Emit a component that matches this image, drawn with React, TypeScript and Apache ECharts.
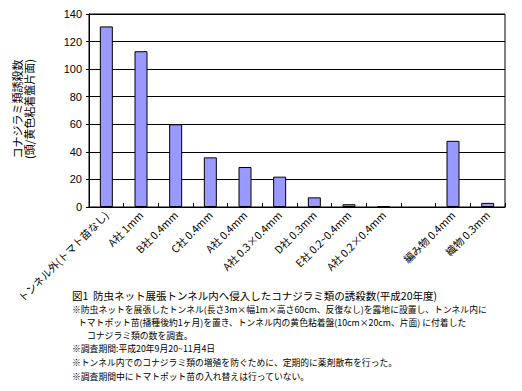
import React, { useEffect, useRef } from "react";
import * as echarts from "echarts";

const categories = [
  "トンネル外(トマト苗なし)",
  "A社 1mm",
  "B社 0.4mm",
  "C社 0.4mm",
  "A社 0.4mm",
  "A社 0.3×0.4mm",
  "D社 0.3mm",
  "E社 0.2~0.4mm",
  "A社 0.2×0.4mm",
  "",
  "編み物 0.4mm",
  "織物 0.3mm",
];
const counts = [131, 113, 60, 36, 29, 22, 7, 2, 0.5, null, 48, 3];
const yTicks = { min: 0, max: 140, interval: 20 };
const yTitle = ["コナジラミ類誘殺数", "(頭/黄色粘着盤片面)"];
const captionTitle = "図1  防虫ネット展張トンネル内へ侵入したコナジラミ類の誘殺数(平成20年度)";
const captionLines = [
  "※防虫ネットを展張したトンネル(長さ3m×幅1m×高さ60cm、反復なし)を露地に設置し、トンネル内に",
  "トマトポット苗(播種後約1ヶ月)を置き、トンネル内の黄色粘着盤(10cm×20cm、片面) に付着した",
  "コナジラミ類の数を調査。",
  "※調査期間:平成20年9月20~11月4日",
  "※トンネル内でのコナジラミ類の増殖を防ぐために、定期的に薬剤散布を行った。",
  "※調査期間中にトマトポット苗の入れ替えは行っていない。",
];

const JP = '"Noto Sans CJK JP", sans-serif';

export default function App() {
  const ref = useRef<HTMLDivElement>(null);
  useEffect(() => {
    if (!ref.current) return;
    const chart = echarts.init(ref.current, null, { renderer: "svg" });
    const captionX = [72, 78, 87, 72, 72, 72];
    const captionY = [305, 318, 331, 344, 358, 372];
    chart.setOption({
      animation: false,
      backgroundColor: "#ffffff",
      grid: {
        left: 89,
        right: 17,
        top: 14,
        bottom: 184,
        show: true,
        borderColor: "#000",
        borderWidth: 1,
        backgroundColor: "transparent",
      },
      xAxis: {
        type: "category",
        data: categories,
        axisLine: { lineStyle: { color: "#000", width: 1 } },
        axisTick: { show: true, inside: true, length: 4, lineStyle: { color: "#000" } },
        axisLabel: {
          rotate: 45,
          interval: 0,
          fontFamily: JP,
          fontSize: 10.5,
          color: "#000",
          margin: 6,
        },
      },
      yAxis: {
        type: "value",
        min: yTicks.min,
        max: yTicks.max,
        interval: yTicks.interval,
        axisLine: { show: true, lineStyle: { color: "#000", width: 1 } },
        axisTick: { show: true, length: 3, lineStyle: { color: "#000" } },
        axisLabel: {
          fontFamily: '"Liberation Sans", Arial, sans-serif',
          fontSize: 11,
          color: "#000",
          margin: 7,
        },
        splitLine: { show: true, lineStyle: { color: "#000", width: 1 } },
      },
      series: [
        {
          type: "bar",
          data: counts,
          barWidth: 13,
          itemStyle: { color: "#9999ff", borderColor: "#000", borderWidth: 1 },
        },
      ],
      graphic: [
        {
          type: "text",
          x: 17,
          y: 109,
          rotation: Math.PI / 2,
          style: {
            text: yTitle[0],
            fontFamily: JP,
            fontSize: 11,
            fill: "#000",
            align: "center",
            verticalAlign: "middle",
          },
        },
        {
          type: "text",
          x: 29,
          y: 109,
          rotation: Math.PI / 2,
          style: {
            text: yTitle[1],
            fontFamily: JP,
            fontSize: 11,
            fill: "#000",
            align: "center",
            verticalAlign: "middle",
          },
        },
        {
          type: "text",
          x: 72,
          y: 290,
          style: {
            text: captionTitle,
            fontFamily: JP,
            fontSize: 10.5,
            fill: "#000",
            align: "left",
            verticalAlign: "top",
          },
        },
        ...captionLines.map((t, i) => ({
          type: "text",
          x: captionX[i],
          y: captionY[i],
          style: {
            text: t,
            fontFamily: JP,
            fontSize: 8.8,
            fill: "#000",
            align: "left",
            verticalAlign: "top",
          },
        })),
      ],
    });
    return () => chart.dispose();
  }, []);
  return <div ref={ref} style={{ width: 522, height: 391, margin: -8 }} />;
}
